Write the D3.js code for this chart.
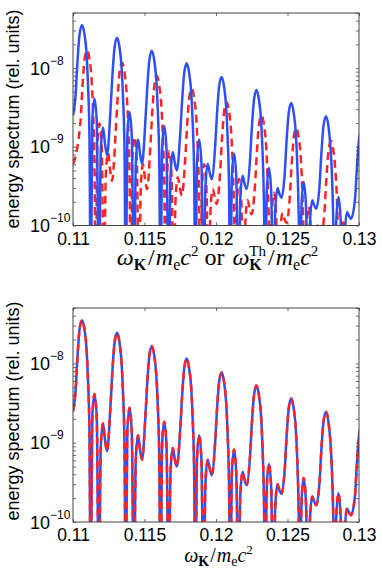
<!DOCTYPE html>
<html><head><meta charset="utf-8">
<script src="https://cdn.jsdelivr.net/npm/d3@7"></script>
<style>body{margin:0;background:#fff}svg{display:block}</style>
</head><body>
<svg id="c" width="382" height="577"></svg>
<script>
// ---------- data ----------
const xTicks = [0.11, 0.115, 0.12, 0.125, 0.13];
const xTickLabels = ["0.11", "0.115", "0.12", "0.125", "0.13"];
const yTicks = [1e-10, 1e-9, 1e-8];
const yTickExponents = ["\u221210", "\u22129", "\u22128"];

// blue solid: spectrum vs omega_K (0 = exact zero of the spectrum)
const omegaBlue = [
0.11,
0.11018,0.1103,0.11046,0.11063,0.1108,0.11095,0.11105,0.11115,0.11124,0.11135,0.1115,0.11166,0.11181,0.11194,0.1121,0.11224,0.11238,
0.11263,0.11275,0.11291,0.11308,0.11325,0.1134,0.1135,0.1136,0.11369,0.1138,0.11395,0.11411,0.11426,0.11439,0.11455,0.11469,0.11483,
0.11506,0.11518,0.11534,0.11551,0.11568,0.11583,0.11593,0.11603,0.11612,0.11623,0.11638,0.11654,0.11669,0.11682,0.11698,0.11712,0.11726,
0.1175,0.11762,0.11778,0.11795,0.11812,0.11827,0.11837,0.11847,0.11856,0.11867,0.11882,0.11898,0.11913,0.11926,0.11942,0.11956,0.1197,
0.11994,0.12006,0.12022,0.12039,0.12056,0.12071,0.12081,0.12091,0.121,0.12111,0.12126,0.12142,0.12157,0.1217,0.12186,0.122,0.12214,
0.12238,0.1225,0.12266,0.12283,0.123,0.12315,0.12325,0.12335,0.12344,0.12355,0.1237,0.12386,0.124,0.12414,0.1243,0.12444,0.12458,
0.12481,0.12493,0.12509,0.12526,0.12543,0.12558,0.12568,0.12578,0.12587,0.12598,0.12613,0.12629,0.12644,0.12657,0.12673,0.12687,0.12701,
0.12724,0.12736,0.12752,0.12769,0.12786,0.128,0.12811,0.12821,0.1283,0.12841,0.12856,0.12872,0.12887,0.129,0.12916,0.1293,0.12944,
0.12972,0.12985,0.13001,0.13018
];
const specBlue = [
2.5e-9,
4.5e-9,1.1e-8,2.7e-8,3.5e-8,2.7e-8,1.5e-8,6.1e-9,1.4e-9,0,2.1e-9,4.1e-9,2.1e-9,0,8.8e-10,1.76e-9,1.08e-9,7.8e-10,
3.1e-9,7.7e-9,1.85e-8,2.43e-8,1.85e-8,1.0e-8,4.2e-9,9.7e-10,0,1.39e-9,2.77e-9,1.39e-9,0,6.2e-10,1.24e-9,8.1e-10,6.1e-10,
2.1e-9,5.2e-9,1.26e-8,1.66e-8,1.26e-8,6.9e-9,2.9e-9,6.6e-10,0,9.2e-10,1.84e-9,9.2e-10,0,4.3e-10,8.6e-10,6.2e-10,5.0e-10,
1.48e-9,3.6e-9,8.7e-9,1.15e-8,8.7e-9,4.8e-9,2.0e-9,4.6e-10,0,6.2e-10,1.24e-9,6.2e-10,0,3.1e-10,6.1e-10,4.7e-10,3.9e-10,
1.0e-9,2.45e-9,5.9e-9,7.7e-9,5.9e-9,3.2e-9,1.35e-9,3.1e-10,0,4.1e-10,8.2e-10,4.1e-10,0,2.2e-10,4.3e-10,3.4e-10,2.9e-10,
6.8e-10,1.66e-9,3.98e-9,5.25e-9,3.98e-9,2.2e-9,9.1e-10,2.1e-10,0,2.7e-10,5.4e-10,2.7e-10,0,1.5e-10,3.0e-10,2.5e-10,2.25e-10,
4.7e-10,1.14e-9,2.74e-9,3.6e-9,2.74e-9,1.5e-9,6.3e-10,1.44e-10,0,1.8e-10,3.6e-10,1.8e-10,0,1.06e-10,2.1e-10,1.8e-10,1.63e-10,
3.2e-10,7.7e-10,1.86e-9,2.45e-9,1.86e-9,1.02e-9,4.3e-10,9.75e-11,0,1.15e-10,2.3e-10,1.15e-10,0,7.4e-11,1.48e-10,1.32e-10,1.22e-10,
2.15e-10,5.3e-10,1.27e-9,1.67e-9
];

// red dashed (top panel): spectrum vs omega_K^Th
const omegaRed = [
0.11,
0.11053,0.11065,0.11081,0.11098,0.11115,0.1113,0.1114,0.1115,0.11159,0.1117,0.11185,0.11201,0.11216,0.11229,0.11245,0.11259,0.11273,
0.11298,0.1131,0.11326,0.11343,0.1136,0.11375,0.11385,0.11395,0.11404,0.11415,0.1143,0.11446,0.11461,0.11474,0.1149,0.11504,0.11518,
0.11541,0.11553,0.11569,0.11586,0.11603,0.11618,0.11628,0.11638,0.11647,0.11658,0.11673,0.11689,0.11704,0.11717,0.11733,0.11747,0.11761,
0.11785,0.11797,0.11813,0.1183,0.11847,0.11862,0.11872,0.11882,0.11891,0.11902,0.11917,0.11933,0.11948,0.11961,0.11977,0.11991,0.12005,
0.12029,0.12041,0.12057,0.12074,0.12091,0.12106,0.12116,0.12126,0.12135,0.12146,0.12161,0.12177,0.12192,0.12205,0.12221,0.12235,0.12249,
0.12273,0.12285,0.12301,0.12318,0.12335,0.1235,0.1236,0.1237,0.12379,0.1239,0.12405,0.12421,0.12435,0.12449,0.12465,0.12479,0.12493,
0.12516,0.12528,0.12544,0.12561,0.12578,0.12593,0.12603,0.12613,0.12622,0.12633,0.12648,0.12664,0.12679,0.12692,0.12708,0.12722,0.12736,
0.12759,0.12771,0.12787,0.12804,0.12821,0.12835,0.12846,0.12856,0.12865,0.12876,0.12891,0.12907,0.12922,0.12935,0.12951,0.12965,0.12979,
0.13007,0.1302
];
const specRed = [
6.0e-10,
2.16e-9,5.3e-9,1.3e-8,1.68e-8,1.3e-8,7.2e-9,2.9e-9,6.7e-10,0,1.0e-9,1.97e-9,1.0e-9,0,4.2e-10,8.4e-10,5.2e-10,3.7e-10,
1.49e-9,3.7e-9,8.9e-9,1.17e-8,8.9e-9,4.8e-9,2.0e-9,4.7e-10,0,6.7e-10,1.33e-9,6.7e-10,0,3.0e-10,6.0e-10,3.9e-10,2.9e-10,
1.0e-9,2.5e-9,6.0e-9,8.0e-9,6.0e-9,3.3e-9,1.39e-9,3.2e-10,0,4.4e-10,8.8e-10,4.4e-10,0,2.1e-10,4.1e-10,3.0e-10,2.4e-10,
7.1e-10,1.73e-9,4.2e-9,5.5e-9,4.2e-9,2.3e-9,9.6e-10,2.2e-10,0,3.0e-10,6.0e-10,3.0e-10,0,1.49e-10,2.9e-10,2.3e-10,1.87e-10,
4.8e-10,1.18e-9,2.8e-9,3.7e-9,2.8e-9,1.54e-9,6.5e-10,1.49e-10,0,2.0e-10,3.9e-10,2.0e-10,0,1.06e-10,2.1e-10,1.63e-10,1.39e-10,
3.3e-10,8.0e-10,1.91e-9,2.5e-9,1.91e-9,1.06e-9,4.4e-10,1.0e-10,0,1.3e-10,2.6e-10,1.3e-10,0,7.2e-11,1.44e-10,1.2e-10,1.08e-10,
2.3e-10,5.5e-10,1.32e-9,1.73e-9,1.32e-9,7.2e-10,3.0e-10,6.9e-11,0,8.6e-11,1.73e-10,8.6e-11,0,5.1e-11,1.0e-10,8.6e-11,7.8e-11,
1.54e-10,3.7e-10,8.9e-10,1.18e-9,8.9e-10,4.9e-10,2.1e-10,4.7e-11,0,5.5e-11,1.1e-10,5.5e-11,0,3.6e-11,7.1e-11,6.3e-11,5.9e-11,
1.03e-10,2.5e-10
];

// bottom panel: both curves coincide
const omegaBottom = omegaBlue;
const specBottomBlue = specBlue;
const specBottomRed = specBlue;

// ---------- drawing ----------
const BLUE = "#2f4ff6", RED = "#ff2424", AXIS = "#444";
const SANS = "'Liberation Sans', Arial, Helvetica, sans-serif";
const SERIF = "'Liberation Serif', 'Times New Roman', serif";
const L = 73, R = 359;
const svg = d3.select("#c");
const x = d3.scaleLinear().domain([0.11, 0.13]).range([L, R]);

function mathLabel(cx, by, parts, fs) {
  const g = svg.append("g");
  let cur = 0, stackW = 0;
  parts.forEach(p => {
    const t = g.append("text").text(p.s)
      .attr("x", cur).attr("y", by + (p.dy || 0))
      .attr("font-family", SERIF).attr("font-size", p.fs || fs)
      .attr("font-style", p.it ? "italic" : "normal")
      .attr("font-weight", p.b ? "bold" : "normal")
      .attr("fill", "#000");
    const w = t.node().getComputedTextLength();
    if (p.stack) { stackW = Math.max(stackW, w); }
    else { cur += Math.max(w, stackW) + (p.gap || 0); stackW = 0; }
  });
  g.attr("transform", `translate(${cx - cur / 2},0)`);
}

function panel(y0, y1, series, yLabelCy) {
  const y = d3.scaleLog().domain([1e-10, 5e-8]).range([y1, y0]);
  const id = "clip" + Math.round(y0);
  svg.append("clipPath").attr("id", id).append("rect")
    .attr("x", L).attr("y", y0).attr("width", R - L).attr("height", y1 - y0);
  const line = d3.line()
    .x(d => x(d[0]))
    .y(d => y(Math.max(d[1], 1e-11)))
    .curve(d3.curveMonotoneX);
  series.forEach(s => {
    svg.append("path")
      .attr("clip-path", `url(#${id})`)
      .attr("d", line(d3.zip(s.x, s.v)))
      .attr("fill", "none").attr("stroke", s.color)
      .attr("stroke-width", 2.5)
      .attr("stroke-linejoin", "round")
      .attr("stroke-dasharray", s.dash || null);
  });
  const allY = y.ticks();
  const styleAxis = g => {
    g.select(".domain").remove();
    g.selectAll(".tick line").attr("stroke", AXIS).attr("stroke-width", 0.8);
    g.selectAll("text").attr("font-family", SANS).attr("font-size", 17.5).attr("fill", "#000");
  };
  svg.append("g").attr("transform", `translate(0,${y1})`)
    .call(d3.axisBottom(x).tickValues(xTicks).tickSizeInner(-3).tickSizeOuter(0)
      .tickPadding(7).tickFormat((d, i) => xTickLabels[i])).call(styleAxis);
  svg.append("g").attr("transform", `translate(0,${y0})`)
    .call(d3.axisTop(x).tickValues(xTicks).tickSizeInner(-3).tickSizeOuter(0).tickFormat(""))
    .call(styleAxis);
  svg.append("g").attr("transform", `translate(${L},0)`)
    .call(d3.axisLeft(y).tickValues(allY).tickSizeInner(-3).tickSizeOuter(0).tickFormat(""))
    .call(styleAxis);
  svg.append("g").attr("transform", `translate(${R},0)`)
    .call(d3.axisRight(y).tickValues(allY).tickSizeInner(-3).tickSizeOuter(0).tickFormat(""))
    .call(styleAxis);
  svg.append("rect").attr("x", L).attr("y", y0).attr("width", R - L).attr("height", y1 - y0)
    .attr("fill", "none").attr("stroke", AXIS).attr("stroke-width", 1);
  // y tick labels 10^k
  yTicks.forEach((v, i) => {
    const t = svg.append("text").attr("x", 30).attr("y", y(v) + 6.5)
      .attr("font-family", SANS).attr("font-size", 18).attr("fill", "#000");
    t.append("tspan").text("10");
    t.append("tspan").attr("dy", -10).attr("font-size", 12).text(yTickExponents[i]);
  });
  svg.append("text")
    .attr("transform", `translate(19,${yLabelCy}) rotate(-90)`)
    .attr("text-anchor", "middle")
    .attr("font-family", SANS).attr("font-size", 18).attr("fill", "#000")
    .text("energy spectrum (rel. units)");
}

panel(13, 225.5, [
  {x: omegaRed, v: specRed, color: RED, dash: "8,5"},
  {x: omegaBlue, v: specBlue, color: BLUE}
], 119);

panel(308, 522, [
  {x: omegaBottom, v: specBottomBlue, color: BLUE},
  {x: omegaBottom, v: specBottomRed, color: RED, dash: "7,5"}
], 411);

// top x label (larger in the reference)
mathLabel(217.5, 265, [
  {s: "\u03c9", it: true},
  {s: "K", b: true, fs: 16, dy: 5, gap: 2},
  {s: "/", gap: 1},
  {s: "m", it: true},
  {s: "e", fs: 16, dy: 5},
  {s: "c", it: true},
  {s: "2", fs: 15, dy: -9},
  {s: "\u00a0or\u00a0", gap: 2},
  {s: "\u03c9", it: true},
  {s: "Th", fs: 15, dy: -9, stack: true},
  {s: "K", b: true, fs: 16, dy: 5, gap: 2},
  {s: "/", gap: 1},
  {s: "m", it: true},
  {s: "e", fs: 16, dy: 5},
  {s: "c", it: true},
  {s: "2", fs: 15, dy: -9}
], 24);

mathLabel(218.5, 562, [
  {s: "\u03c9", it: true},
  {s: "K", b: true, fs: 14, dy: 4, gap: 1},
  {s: "/", gap: 1},
  {s: "m", it: true},
  {s: "e", fs: 14, dy: 4},
  {s: "c", it: true},
  {s: "2", fs: 13, dy: -8}
], 20);
</script>
</body></html>
